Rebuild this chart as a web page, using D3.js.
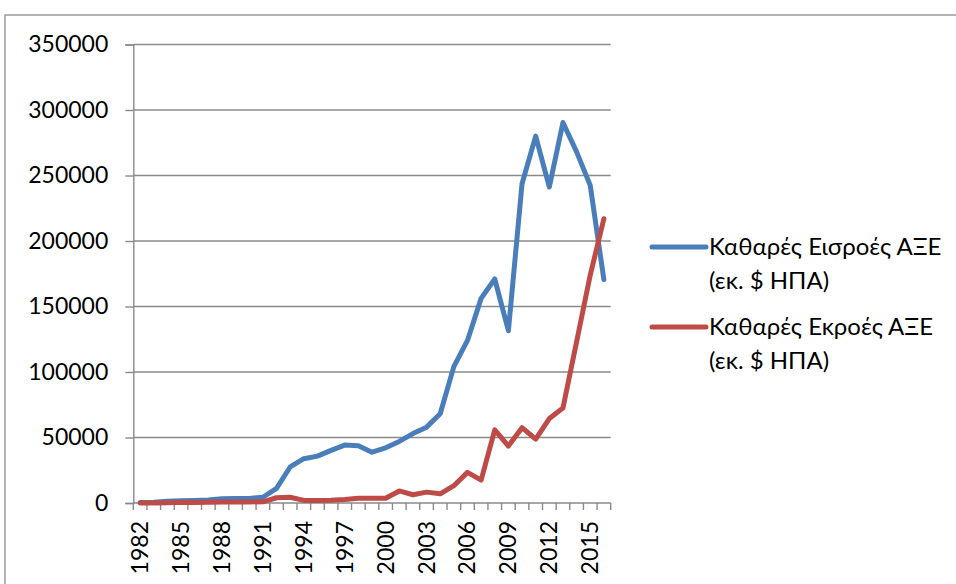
<!DOCTYPE html>
<html>
<head>
<meta charset="utf-8">
<script src="https://cdn.jsdelivr.net/npm/d3@7"></script>
<style>
  body { margin: 0; background: #fff; }
  svg { display: block; font-family: Lato, "Open Sans", sans-serif; }
</style>
</head>
<body>
<svg id="chart" width="956" height="584"></svg>
<script>
const svg = d3.select('#chart');

// data
const years = d3.range(1982, 2017);
const inflows = [430, 640, 1260, 1660, 1880, 2310, 3190, 3390, 3490, 4370,
  11160, 27500, 33800, 35800, 40200, 44200, 43700, 38800, 42100, 47000,
  53000, 57900, 68100, 104100, 124100, 156200, 171000, 131500, 243700, 280100,
  241200, 290500, 268000, 242500, 170500];
const outflows = [40, 90, 130, 630, 450, 650, 850, 780, 830, 910,
  4000, 4400, 2000, 2000, 2100, 2600, 3600, 3600, 3600, 9200,
  6300, 8300, 7000, 13200, 23400, 17500, 55800, 43500, 57500, 48700,
  64500, 72500, 123000, 174000, 217000];
const seriesNames = ['Καθαρές Εισροές ΑΞΕ', 'Καθαρές Εκροές ΑΞΕ'];
const seriesSub = '(εκ. $ ΗΠΑ)';
const yTicks = [0, 50000, 100000, 150000, 200000, 250000, 300000, 350000];
const xTickYears = d3.range(1982, 2017, 3);

const colors = ['#4a7ebb', '#be4b48'];
const plot = { left: 133.3, right: 610.7, top: 44.5, bottom: 503 };

// outer frame
svg.append('rect')
  .attr('x', 5).attr('y', 15)
  .attr('width', 1000).attr('height', 1000)
  .attr('fill', 'none').attr('stroke', '#8c8c8c').attr('stroke-width', 1.3);

const x = d3.scaleBand()
  .domain(years)
  .range([plot.left, plot.right]);

const y = d3.scaleLinear()
  .domain([0, 350000])
  .range([plot.bottom, plot.top]);

// gridlines
svg.append('g')
  .selectAll('line')
  .data(yTicks.slice(1))
  .enter().append('line')
    .attr('x1', plot.left).attr('x2', plot.right)
    .attr('y1', d => y(d)).attr('y2', d => y(d))
    .attr('stroke', '#8a8a8a').attr('stroke-width', 1.4);

// y axis
const yAxis = d3.axisLeft(y)
  .tickValues(yTicks)
  .tickSize(8)
  .tickPadding(17)
  .tickFormat(d3.format('d'));

const yG = svg.append('g')
  .attr('transform', `translate(${plot.left},0)`)
  .call(yAxis);
yG.select('.domain').attr('stroke', '#8a8a8a').attr('stroke-width', 1.4);
yG.selectAll('.tick line').attr('stroke', '#8a8a8a').attr('stroke-width', 1.4);
yG.selectAll('.tick text')
  .attr('fill', '#000')
  .style('font-size', '23px')
  .style('font-family', 'Lato, "Open Sans", sans-serif');

// x axis: tick marks between categories
const xG = svg.append('g');
xG.append('line')
  .attr('x1', plot.left).attr('x2', plot.right)
  .attr('y1', plot.bottom).attr('y2', plot.bottom)
  .attr('stroke', '#8a8a8a').attr('stroke-width', 1.4);
xG.selectAll('.xtick')
  .data(years.concat([null]))
  .enter().append('line')
    .attr('class', 'xtick')
    .attr('x1', (d, i) => i < years.length ? x(d) : plot.right)
    .attr('x2', (d, i) => i < years.length ? x(d) : plot.right)
    .attr('y1', plot.bottom).attr('y2', plot.bottom + 7)
    .attr('stroke', '#8a8a8a').attr('stroke-width', 1.4);
xG.selectAll('.xlabel')
  .data(xTickYears)
  .enter().append('text')
    .attr('class', 'xlabel')
    .attr('transform', d => `translate(${x(d) + x.bandwidth() / 2 + 8},${plot.bottom + 18}) rotate(-90)`)
    .attr('text-anchor', 'end')
    .style('font-size', '23px')
    .text(d => d);

// lines
const line = d3.line()
  .x((d, i) => x(years[i]) + x.bandwidth() / 2)
  .y(d => y(d));

[inflows, outflows].forEach((vals, k) => {
  svg.append('path')
    .datum(vals)
    .attr('fill', 'none')
    .attr('stroke', colors[k])
    .attr('stroke-width', 5)
    .attr('stroke-linejoin', 'round')
    .attr('stroke-linecap', 'round')
    .attr('d', line);
});

// legend
const legend = svg.append('g');
const legendY = [247, 327];
seriesNames.forEach((name, k) => {
  const g = legend.append('g').attr('transform', `translate(0,${legendY[k]})`);
  g.append('line')
    .attr('x1', 652).attr('x2', 706)
    .attr('y1', 0).attr('y2', 0)
    .attr('stroke', colors[k]).attr('stroke-width', 5)
    .attr('stroke-linecap', 'round');
  g.append('text')
    .attr('x', 709).attr('y', 8)
    .style('font-size', '24px')
    .text(name);
  g.append('text')
    .attr('x', 709).attr('y', 42)
    .style('font-size', '24px')
    .text(seriesSub);
});
</script>
</body>
</html>
